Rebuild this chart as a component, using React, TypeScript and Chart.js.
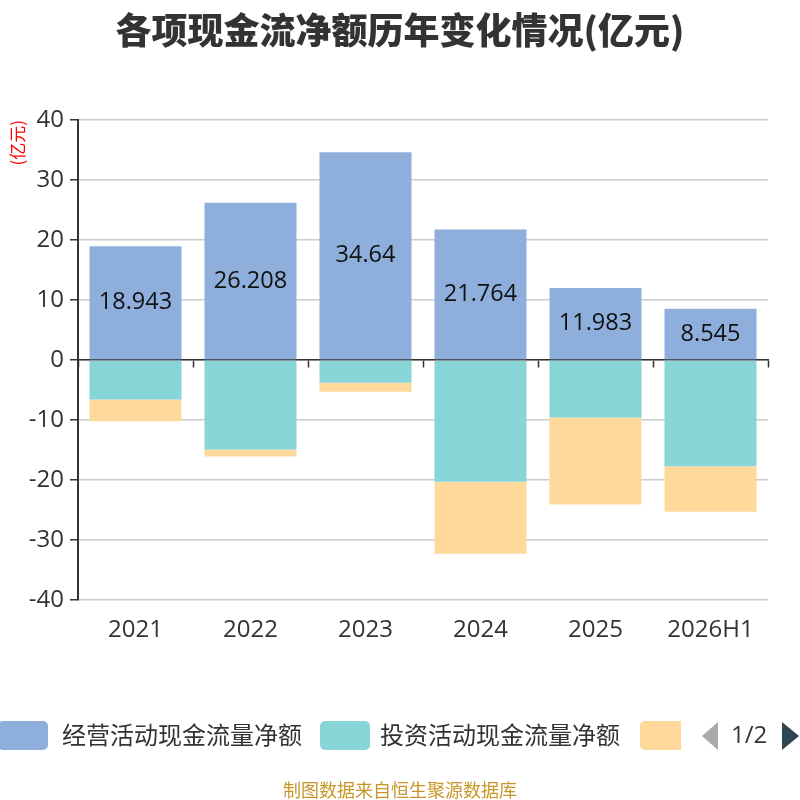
import { useEffect, useRef } from "react";
import { Chart, registerables } from "chart.js";

Chart.register(...registerables);

const years = ["2021", "2022", "2023", "2024", "2025", "2026H1"];
const operating = [18.943, 26.208, 34.64, 21.764, 11.983, 8.545];
const investing = [-6.6, -14.9, -3.8, -20.3, -9.6, -17.7];
const financing = [-3.6, -1.2, -1.5, -12.0, -14.5, -7.6];
const seriesNames = ["经营活动现金流量净额", "投资活动现金流量净额", "筹资活动现金流量净额"];
const colors = ["#8eaedb", "#88d5d8", "#fed99b"];

const cjk = "'Noto Sans CJK SC', 'Microsoft YaHei', sans-serif";
const num = "'Open Sans', 'Noto Sans CJK SC', sans-serif";

// value labels in the middle of the operating bars
const barLabels = {
  id: "barLabels",
  afterDatasetsDraw(chart: Chart) {
    const ctx = chart.ctx;
    const meta = chart.getDatasetMeta(0);
    ctx.save();
    ctx.font = `23.5px ${num}`;
    ctx.fillStyle = "#111";
    ctx.textAlign = "center";
    ctx.textBaseline = "middle";
    meta.data.forEach((bar: any, i) => {
      const { x, y, base } = bar.getProps(["x", "y", "base"], true);
      ctx.fillText(String(operating[i]), x, (y + base) / 2);
    });
    ctx.restore();
  },
};

export default function App() {
  const canvasRef = useRef<HTMLCanvasElement>(null);
  const chartRef = useRef<Chart | null>(null);

  useEffect(() => {
    document.body.style.margin = "0";
    if (!canvasRef.current) return;
    chartRef.current?.destroy();

    chartRef.current = new Chart(canvasRef.current, {
      type: "bar",
      data: {
        labels: years,
        datasets: [operating, investing, financing].map((d, i) => ({
          label: seriesNames[i],
          data: d,
          backgroundColor: colors[i],
          borderWidth: 0,
          categoryPercentage: 0.8,
          barPercentage: 1,
        })),
      },
      options: {
        responsive: false,
        animation: false,
        layout: { padding: { left: 0, right: 32, top: 120, bottom: 160 } },
        plugins: {
          legend: { display: false },
          tooltip: { enabled: false },
        },
        scales: {
          x: {
            stacked: true,
            grid: { display: false },
            border: { display: false },
            ticks: { color: "#333", font: { size: 24, family: num }, padding: 8 },
            afterFit: (s: any) => { s.height = 40; },
          },
          x2: {
            type: "category",
            labels: years,
            position: { y: 0 } as any,
            grid: { drawOnChartArea: false, offset: true, tickLength: 7, tickColor: "#333", tickWidth: 1.5 },
            border: { color: "#333", width: 1.5 },
            ticks: { display: false },
          },
          y: {
            stacked: true,
            min: -40,
            max: 40,
            ticks: { stepSize: 10, color: "#333", font: { size: 24, family: num }, padding: 6 },
            grid: { color: "#cccccc", lineWidth: 1.5, tickLength: 8, tickColor: "#333", tickWidth: 1.5 },
            border: { color: "#333", width: 2 },
            title: {
              display: true,
              text: "(亿元)",
              color: "#ff0000",
              align: "end",
              font: { size: 17, family: cjk },
              padding: { top: 7, bottom: 0 },
            },
            afterFit: (s: any) => { s.width = 78; },
          },
        },
      },
      plugins: [barLabels],
    });

    return () => {
      chartRef.current?.destroy();
      chartRef.current = null;
    };
  }, []);

  const legendItem = (i: number, left: number, textLeft: number) => (
    <>
      <div style={{ position: "absolute", left, top: 721, width: 50, height: 29, borderRadius: 5, background: colors[i] }} />
      {i < 2 && (
        <div style={{ position: "absolute", left: textLeft, top: 717, fontSize: 24, lineHeight: "34px", color: "#333", fontFamily: cjk, whiteSpace: "nowrap" }}>
          {seriesNames[i]}
        </div>
      )}
    </>
  );

  return (
    <div style={{ position: "relative", width: 800, height: 800, background: "#fff", overflow: "hidden" }}>
      <canvas ref={canvasRef} width={800} height={800} style={{ position: "absolute", left: 0, top: 0 }} />
      <div style={{ position: "absolute", left: 0, top: 2, width: 800, textAlign: "center", fontSize: 36, fontWeight: 900, color: "#333", fontFamily: cjk }}>
        各项现金流净额历年变化情况(亿元)
      </div>
      {legendItem(0, -2, 62)}
      {legendItem(1, 320, 380)}
      <div style={{ position: "absolute", left: 640, top: 721, width: 41, height: 29, overflow: "hidden" }}>
        <div style={{ width: 50, height: 29, borderRadius: 5, background: colors[2] }} />
      </div>
      <div style={{ position: "absolute", left: 702, top: 722, width: 0, height: 0, borderTop: "14px solid transparent", borderBottom: "14px solid transparent", borderRight: "16px solid #aaa" }} />
      <div style={{ position: "absolute", left: 731, top: 717, fontSize: 24, lineHeight: "34px", color: "#333", fontFamily: num }}>1/2</div>
      <div style={{ position: "absolute", left: 782, top: 722, width: 0, height: 0, borderTop: "14px solid transparent", borderBottom: "14px solid transparent", borderLeft: "17px solid #2f4554" }} />
      <div style={{ position: "absolute", left: 0, top: 776, width: 800, textAlign: "center", fontSize: 18, color: "#c8962a", fontFamily: cjk }}>
        制图数据来自恒生聚源数据库
      </div>
    </div>
  );
}
